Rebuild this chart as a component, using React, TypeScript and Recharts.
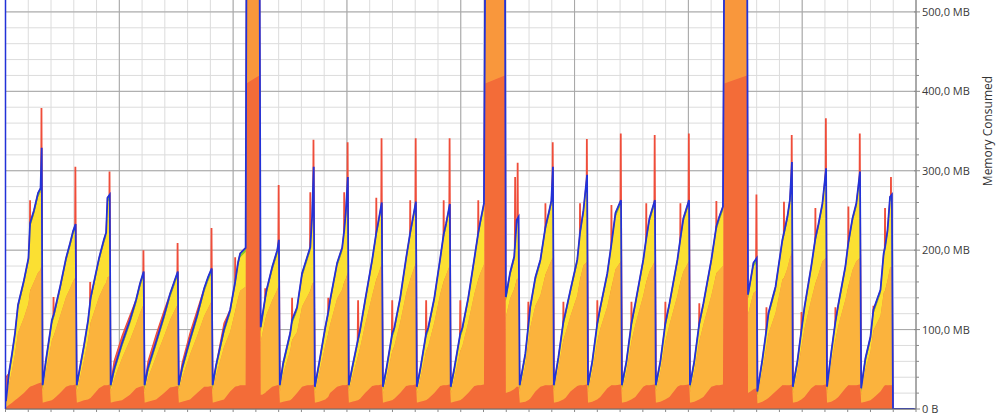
import React from 'react';
import { ComposedChart, Area, Line, XAxis, YAxis, CartesianGrid, ReferenceLine } from 'recharts';

// time (s) of every sample
const time = [
  0.2, 1.5, 2.9, 4.2, 5.5, 8.1, 10.1, 10.8, 12.5, 14.3, 15.4, 15.9,
  16.3, 17.8, 20.4, 21.3, 24.0, 26.6, 28.4, 29.7, 30.8,
  31.3, 32.7, 34.5, 36.3, 37.4, 41.1, 43.3, 44.2, 44.8, 45.8,
  46.2, 47.7, 51.2, 54.7, 57.4, 59.1, 60.7,
  61.1, 62.6, 66.2, 69.7, 72.3, 74.1, 75.7,
  76.1, 77.6, 81.1, 84.2, 87.3, 89.0, 90.6,
  91.0, 92.5, 96.0, 98.7, 100.9, 102.2, 103.1, 105.5,
  105.9, 111.6,
  112.1, 112.8, 114.1, 114.7, 117.2, 119.4, 120.1,
  120.5, 122.0, 125.1, 125.9, 128.1, 130.3, 132.5, 133.9, 134.7, 135.4,
  135.9, 137.8, 140.5, 141.8, 142.6, 145.7, 147.9, 148.8, 149.5, 150.4,
  150.8, 152.3, 154.9, 155.8, 158.0, 161.1, 162.9, 163.7, 165.3,
  165.8, 167.3, 169.9, 170.8, 173.4, 176.0, 177.8, 178.7, 180.3,
  180.7, 182.2, 184.8, 185.7, 188.4, 191.0, 192.5, 193.6, 195.2,
  195.6, 197.1, 199.8, 200.7, 203.3, 206.0, 207.7, 208.6, 210.2,
  210.8, 219.4,
  219.8, 221.7, 223.5, 224.6, 225.4,
  225.9, 228.4, 229.7, 230.5, 232.8, 235.0, 237.2, 238.9, 239.8, 240.5,
  240.9, 242.9, 245.1, 246.0, 248.2, 251.2, 252.4, 253.9, 255.5,
  255.9, 257.8, 260.0, 261.3, 264.4, 266.2, 268.0, 270.4,
  270.8, 272.8, 275.0, 276.7, 280.2, 281.5, 282.9, 285.3,
  285.7, 287.7, 289.9, 291.7, 295.2, 296.5, 297.8, 300.3,
  300.7, 302.6, 304.8, 306.6, 310.1, 312.3, 313.6, 315.2,
  315.8, 325.8,
  326.2, 327.3, 328.6, 330.0,
  330.3, 332.5, 334.3, 335.2, 338.3, 341.3, 342.0, 343.5, 344.6, 345.5,
  345.9, 347.9, 349.7, 351.0, 354.0, 355.8, 357.1, 358.9, 360.5,
  360.9, 362.8, 364.6, 365.9, 369.0, 370.3, 372.1, 373.8, 375.4,
  375.9, 377.8, 380.0, 381.3, 384.4, 385.8, 386.4, 387.5, 388.6, 389.4,
  389.9, 400,
];

// total heap (top of the stack, blue line), MB
const total = [
  10, 45, 70, 96, 131, 162, 190, 234, 250, 272, 278, 329,
  30, 62, 112, 120, 154, 190, 209, 224, 233,
  30, 52, 80, 112, 140, 190, 214, 222, 266, 270,
  30, 50, 83, 112, 138, 158, 173,
  30, 52, 85, 118, 145, 160, 173,
  30, 52, 88, 118, 152, 166, 177,
  30, 55, 100, 125, 160, 185, 196, 203,
  600, 600,
  103, 116, 140, 150, 179, 200, 213,
  30, 58, 96, 112, 128, 171, 191, 204, 242, 305,
  28, 58, 103, 122, 137, 184, 203, 225, 247, 292,
  30, 52, 88, 100, 137, 188, 222, 234, 260,
  28, 50, 95, 102, 140, 190, 222, 236, 261,
  28, 50, 95, 102, 140, 190, 220, 234, 258,
  28, 50, 95, 102, 140, 190, 222, 236, 259,
  600, 600,
  141, 172, 192, 238, 242,
  30, 70, 105, 128, 166, 188, 229, 250, 262, 305,
  30, 65, 110, 121, 150, 188, 222, 250, 295,
  30, 60, 108, 128, 171, 208, 247, 263,
  30, 60, 108, 133, 188, 215, 240, 263,
  30, 60, 108, 133, 188, 215, 240, 263,
  30, 60, 108, 133, 188, 230, 242, 255,
  600, 600,
  144, 162, 184, 190,
  22, 62, 100, 121, 154, 213, 222, 242, 263, 311,
  28, 60, 100, 128, 180, 215, 232, 259, 303,
  28, 72, 110, 132, 180, 210, 240, 259, 299,
  26, 64, 91, 125, 150, 196, 204, 225, 267, 270,
  0, 0,
];

// bottom (dark orange) layer, MB
const dark = [
  2, 5, 8, 11, 14, 20, 26, 28, 30, 32, 33, 33,
  8, 9, 11, 13, 20, 28, 30, 30, 31,
  8, 9, 11, 12, 14, 26, 30, 30, 30, 31,
  8, 9, 11, 18, 26, 28, 29,
  8, 9, 12, 20, 27, 28, 29,
  8, 9, 12, 20, 28, 28, 29,
  8, 9, 12, 22, 28, 29, 30, 30,
  410, 420,
  18, 18, 20, 22, 28, 30, 30,
  8, 9, 11, 13, 20, 28, 30, 30, 30, 31,
  8, 9, 12, 15, 20, 28, 30, 30, 30, 31,
  8, 9, 11, 13, 20, 29, 30, 30, 31,
  8, 9, 11, 13, 20, 29, 30, 30, 31,
  8, 9, 11, 13, 20, 29, 30, 30, 31,
  8, 9, 11, 13, 20, 29, 30, 30, 31,
  410, 420,
  20, 22, 25, 28, 28,
  8, 9, 11, 13, 22, 28, 30, 30, 30, 31,
  8, 9, 12, 14, 22, 29, 30, 30, 31,
  8, 9, 12, 15, 26, 30, 30, 31,
  8, 9, 12, 15, 28, 30, 30, 31,
  8, 9, 12, 15, 28, 30, 30, 31,
  8, 9, 12, 15, 28, 30, 30, 31,
  410, 420,
  20, 22, 25, 26,
  7, 9, 12, 14, 22, 30, 30, 30, 30, 31,
  8, 9, 12, 15, 26, 30, 30, 30, 31,
  8, 9, 12, 15, 26, 30, 30, 30, 31,
  8, 9, 11, 14, 22, 28, 30, 30, 30, 30,
  0, 0,
];

// yellow layer, MB
const yellow = [
  2, 10, 16, 22, 30, 42, 52, 80, 85, 95, 98, 140,
  5, 10, 20, 22, 32, 44, 52, 58, 62,
  5, 9, 14, 20, 26, 44, 54, 58, 95, 98,
  4, 8, 14, 20, 26, 32, 36,
  4, 8, 14, 21, 28, 32, 36,
  4, 8, 14, 21, 30, 34, 36,
  4, 8, 17, 23, 32, 40, 42, 44,
  0, 0,
  14, 17, 23, 26, 37, 45, 52,
  4, 9, 17, 20, 26, 37, 45, 50, 80, 140,
  4, 9, 18, 22, 26, 40, 48, 60, 78, 115,
  4, 8, 16, 18, 26, 40, 54, 60, 72,
  4, 8, 17, 18, 26, 40, 54, 60, 72,
  4, 8, 17, 18, 26, 40, 54, 60, 72,
  4, 8, 17, 18, 26, 40, 54, 60, 72,
  0, 0,
  20, 28, 36, 70, 72,
  4, 10, 17, 21, 31, 40, 55, 64, 70, 110,
  4, 9, 18, 21, 28, 40, 54, 64, 105,
  4, 9, 18, 22, 37, 50, 66, 72,
  4, 9, 18, 22, 40, 50, 62, 72,
  4, 9, 18, 22, 40, 50, 62, 72,
  4, 9, 18, 22, 40, 54, 62, 70,
  0, 0,
  20, 25, 33, 36,
  4, 9, 17, 21, 28, 45, 52, 60, 68, 110,
  4, 9, 17, 22, 37, 52, 58, 68, 108,
  4, 10, 18, 22, 37, 50, 60, 68, 104,
  4, 9, 14, 21, 28, 45, 50, 58, 84, 86,
  0, 0,
];

// thin green layer just under the blue line, MB
const green = [
  3, 5, 5, 5, 5, 5, 5, 5, 5, 5, 5, 5,
  5, 5, 5, 5, 5, 5, 5, 5, 5,
  5, 5, 5, 5, 5, 5, 5, 5, 5, 5,
  5, 5, 5, 5, 5, 5, 5,
  5, 5, 5, 5, 5, 5, 5,
  5, 5, 5, 5, 5, 5, 5,
  5, 5, 5, 5, 5, 5, 5, 5,
  5, 5,
  5, 5, 5, 5, 5, 5, 5,
  5, 5, 5, 5, 5, 5, 5, 5, 5, 5,
  5, 5, 5, 5, 5, 5, 5, 5, 5, 5,
  5, 5, 5, 5, 5, 5, 5, 5, 5,
  5, 5, 5, 5, 5, 5, 5, 5, 5,
  5, 5, 5, 5, 5, 5, 5, 5, 5,
  5, 5, 5, 5, 5, 5, 5, 5, 5,
  5, 5,
  5, 5, 5, 5, 5,
  5, 5, 5, 5, 5, 5, 5, 5, 5, 5,
  5, 5, 5, 5, 5, 5, 5, 5, 5,
  5, 5, 5, 5, 5, 5, 5, 5,
  5, 5, 5, 5, 5, 5, 5, 5,
  5, 5, 5, 5, 5, 5, 5, 5,
  5, 5, 5, 5, 5, 5, 5, 5,
  5, 5,
  5, 5, 5, 5,
  5, 5, 5, 5, 5, 5, 5, 5, 5, 5,
  5, 5, 5, 5, 5, 5, 5, 5, 5,
  5, 5, 5, 5, 5, 5, 5, 5, 5,
  5, 5, 5, 5, 5, 5, 5, 5, 5, 5,
  0, 0,
];

// upper part of the three large allocation bursts, MB
const burst = [
  0, 0, 0, 0, 0, 0, 0, 0, 0, 0, 0, 0,
  0, 0, 0, 0, 0, 0, 0, 0, 0,
  0, 0, 0, 0, 0, 0, 0, 0, 0, 0,
  0, 0, 0, 0, 0, 0, 0,
  0, 0, 0, 0, 0, 0, 0,
  0, 0, 0, 0, 0, 0, 0,
  0, 0, 0, 0, 0, 0, 0, 0,
  185, 175,
  0, 0, 0, 0, 0, 0, 0,
  0, 0, 0, 0, 0, 0, 0, 0, 0, 0,
  0, 0, 0, 0, 0, 0, 0, 0, 0, 0,
  0, 0, 0, 0, 0, 0, 0, 0, 0,
  0, 0, 0, 0, 0, 0, 0, 0, 0,
  0, 0, 0, 0, 0, 0, 0, 0, 0,
  0, 0, 0, 0, 0, 0, 0, 0, 0,
  185, 175,
  0, 0, 0, 0, 0,
  0, 0, 0, 0, 0, 0, 0, 0, 0, 0,
  0, 0, 0, 0, 0, 0, 0, 0, 0,
  0, 0, 0, 0, 0, 0, 0, 0,
  0, 0, 0, 0, 0, 0, 0, 0,
  0, 0, 0, 0, 0, 0, 0, 0,
  0, 0, 0, 0, 0, 0, 0, 0,
  185, 175,
  0, 0, 0, 0,
  0, 0, 0, 0, 0, 0, 0, 0, 0, 0,
  0, 0, 0, 0, 0, 0, 0, 0, 0,
  0, 0, 0, 0, 0, 0, 0, 0, 0,
  0, 0, 0, 0, 0, 0, 0, 0, 0, 0,
  0, 0,
];

// red peak level where it runs above the total over a longer stretch (0 = follows the total), MB
const redTop = [
  40, 0, 0, 0, 0, 0, 0, 0, 0, 0, 0, 0,
  0, 0, 0, 0, 0, 0, 0, 0, 0,
  0, 0, 0, 0, 0, 0, 0, 0, 0, 0,
  0, 60, 92, 118, 0, 0, 0,
  0, 60, 94, 124, 0, 0, 0,
  0, 58, 96, 124, 0, 0, 0,
  0, 0, 108, 0, 0, 0, 0, 0,
  0, 0,
  0, 0, 0, 0, 0, 0, 0,
  0, 0, 0, 0, 0, 0, 0, 0, 0, 0,
  0, 0, 0, 0, 0, 0, 0, 0, 0, 0,
  0, 0, 0, 0, 0, 0, 0, 0, 0,
  0, 0, 0, 0, 0, 0, 0, 0, 0,
  0, 0, 0, 0, 0, 0, 0, 0, 0,
  0, 0, 0, 0, 0, 0, 0, 0, 0,
  0, 0,
  0, 0, 0, 0, 0,
  0, 0, 0, 0, 0, 0, 0, 0, 0, 0,
  0, 0, 0, 0, 0, 0, 0, 0, 0,
  0, 0, 0, 0, 0, 0, 0, 0,
  0, 0, 0, 0, 0, 0, 0, 0,
  0, 0, 0, 0, 0, 0, 0, 0,
  0, 0, 0, 0, 0, 0, 0, 0,
  0, 0,
  0, 0, 0, 0,
  0, 0, 0, 0, 0, 0, 0, 0, 0, 0,
  0, 0, 0, 0, 0, 0, 0, 0, 0,
  0, 0, 0, 0, 0, 0, 0, 0, 0,
  0, 0, 0, 0, 0, 0, 0, 0, 0, 0,
  0, 0,
];

// short red peaks (time s, peak MB)
const spikeTime = [
  10.8, 15.8, 21.1, 30.7, 37.2, 45.7, 60.6, 75.6, 90.5, 100.9,
  114.1, 120.0, 125.9, 133.9, 135.3, 141.8, 148.8, 150.3, 154.9, 162.9,
  165.2, 169.9, 177.8, 180.2, 184.8, 192.5, 195.1, 199.8, 207.7, 223.9,
  225.0, 229.7, 237.2, 240.4, 245.1, 252.4, 255.4, 260.0, 266.2, 270.3,
  275.0, 281.5, 285.2, 289.9, 296.5, 300.2, 304.8, 312.3, 329.9, 334.3,
  342.0, 345.4, 349.7, 355.8, 360.4, 364.6, 370.3, 375.3, 381.3, 386.4,
  389.0,
];
const spikePeak = [
  263, 379, 141, 305, 160, 299, 200, 209, 228, 191,
  152, 282, 140, 273, 339, 140, 273, 336, 137, 266,
  341, 137, 263, 341, 137, 263, 341, 137, 263, 292,
  310, 135, 259, 336, 135, 259, 340, 137, 257, 347,
  135, 259, 345, 135, 259, 347, 133, 262, 270, 128,
  261, 345, 122, 253, 366, 128, 255, 347, 130, 253,
  292,
];
const SPIKE_HALF = 0.5;

const xTicks = [0, 10, 20, 30, 40, 50, 60, 70, 80, 90, 100, 110, 120, 130, 140, 150, 160, 170, 180, 190, 200,
  210, 220, 230, 240, 250, 260, 270, 280, 290, 300, 310, 320, 330, 340, 350, 360, 370, 380, 390, 400];
const xMajor = [0, 50, 100, 150, 200, 250, 300, 350, 400];
const yTicks = [0, 20, 40, 60, 80, 100, 120, 140, 160, 180, 200, 220, 240, 260, 280, 300, 320, 340, 360, 380,
  400, 420, 440, 460, 480, 500];
const yMajor = [0, 100, 200, 300, 400, 500];
const yLabels: Record<number, string> = {
  0: '0 B', 100: '100,0 MB', 200: '200,0 MB', 300: '300,0 MB', 400: '400,0 MB', 500: '500,0 MB',
};

const data = time.map((t, i) => {
  const tot = total[i] ?? 0;
  const d = dark[i] ?? 0;
  const y = yellow[i] ?? 0;
  const g = green[i] ?? 0;
  const b = burst[i] ?? 0;
  return {
    t,
    dark: d,
    orange: Math.max(0, tot - d - y - g - b),
    burst: b,
    yellow: y,
    green: g,
    redLevel: Math.max(tot, redTop[i] ?? 0),
  };
});

const spikeData: { t: number; v: number | null }[] = [];
spikeTime.forEach((t, i) => {
  spikeData.push({ t: t - SPIKE_HALF, v: 0 });
  spikeData.push({ t, v: spikePeak[i] });
  spikeData.push({ t: t + SPIKE_HALF, v: 0 });
  spikeData.push({ t: t + SPIKE_HALF + 0.01, v: null });
});

const TICK_SIZE = 4;
const TICK_MARGIN = 2;
const FONT = '"Open Sans", "DejaVu Sans", sans-serif';

const YTick = (props: any) => {
  const { x, y, payload } = props;
  const v = payload?.value as number;
  const ax = x - TICK_SIZE - TICK_MARGIN;
  const label = yLabels[v];
  const major = label !== undefined;
  return (
    <g>
      <line x1={major ? ax - 2 : ax} x2={ax + (major ? 4 : 3)} y1={y} y2={y} stroke="#8a8a8a" strokeWidth={1} />
      {major && (
        <text x={x} y={y} dy="0.36em" textAnchor="start" fontSize={11} fill="#3a3a3a" fontFamily={FONT}>
          {label}
        </text>
      )}
    </g>
  );
};

const AxisTitle = (props: any) => {
  const vb = props?.viewBox || {};
  const cx = (vb.x ?? 916) + 71;
  const cy = 131;
  return (
    <text
      x={cx}
      y={cy}
      textAnchor="middle"
      dominantBaseline="central"
      transform={`rotate(-90 ${cx} ${cy})`}
      fontSize={12}
      fill="#333"
      fontFamily={FONT}
    >
      Memory Consumed
    </text>
  );
};

const DARK = '#f36c38';
const ORANGE = '#fbb33d';
const BURST = '#f9973c';
const YELLOW = '#fbe032';
const GREEN = '#86d41e';
const BLUE = '#2232d8';
const RED = '#ef4d3a';

export default function App() {
  return (
    <div style={{ position: 'absolute', left: 0, top: 0, width: 1000, height: 420, background: '#ffffff' }}>
      <ComposedChart
        width={1000}
        height={420}
        data={data}
        margin={{ top: 0, right: 0, bottom: 0, left: 5.5 }}
        style={{ fontFamily: FONT }}
      >
        <CartesianGrid stroke="#dcdcdc" horizontalValues={yTicks} verticalValues={xTicks} />
        <CartesianGrid stroke="#a6a6a6" horizontalValues={yMajor} verticalValues={xMajor} />
        <Line data={spikeData} dataKey="v" type="linear" stroke={RED} strokeWidth={1.8} dot={false}
          activeDot={false} connectNulls={false} isAnimationActive={false} zIndex={50} />
        <Area dataKey="redLevel" type="linear" fill={RED} fillOpacity={0.9} stroke={RED} strokeWidth={1.2}
          dot={false} activeDot={false} isAnimationActive={false} />
        <Area dataKey="dark" stackId="m" type="linear" fill={DARK} fillOpacity={1} stroke="none"
          dot={false} activeDot={false} isAnimationActive={false} />
        <Area dataKey="orange" stackId="m" type="linear" fill={ORANGE} fillOpacity={1} stroke="none"
          dot={false} activeDot={false} isAnimationActive={false} />
        <Area dataKey="burst" stackId="m" type="linear" fill={BURST} fillOpacity={1} stroke="none"
          dot={false} activeDot={false} isAnimationActive={false} />
        <Area dataKey="yellow" stackId="m" type="linear" fill={YELLOW} fillOpacity={1} stroke="none"
          dot={false} activeDot={false} isAnimationActive={false} />
        <Area dataKey="green" stackId="m" type="linear" fill={GREEN} fillOpacity={1} stroke={BLUE} strokeWidth={1.8}
          dot={false} activeDot={false} isAnimationActive={false} />
        <ReferenceLine x={0} stroke={BLUE} strokeWidth={1.5} />
        <XAxis
          dataKey="t"
          type="number"
          domain={[0, 400]}
          ticks={xTicks}
          interval={0}
          height={11}
          tickSize={3}
          tickFormatter={() => ''}
          axisLine={{ stroke: '#6a6a6a' }}
          tickLine={{ stroke: '#8a8a8a' }}
        />
        <YAxis
          orientation="right"
          type="number"
          domain={[0, 515]}
          allowDataOverflow
          ticks={yTicks}
          interval={0}
          width={84}
          tickSize={TICK_SIZE}
          tickMargin={TICK_MARGIN}
          tickLine={false}
          axisLine={{ stroke: '#8a8a8a' }}
          tick={<YTick />}
          label={{ content: <AxisTitle /> }}
        />
      </ComposedChart>
    </div>
  );
}
